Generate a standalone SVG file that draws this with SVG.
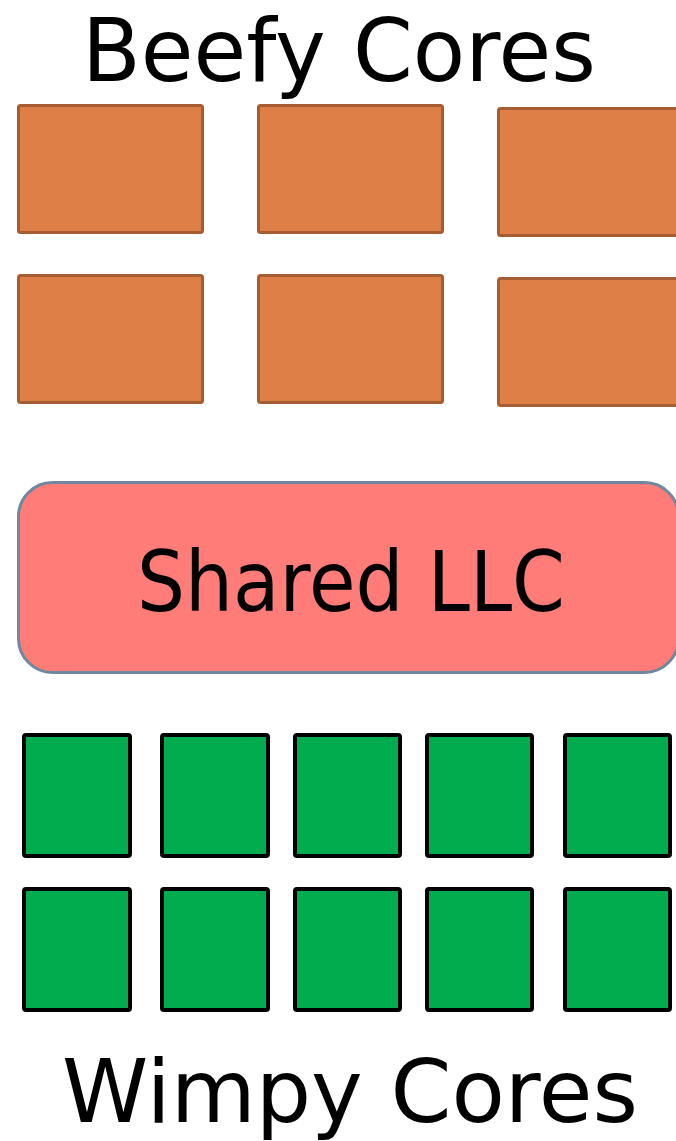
<svg xmlns="http://www.w3.org/2000/svg" width="676" height="1141" viewBox="0 0 676 1141">
<style>
.beefy{fill:#DD7F47;stroke:#A65D33;stroke-width:3}
.wimpy{fill:#00AC4E;stroke:#000;stroke-width:4}
.llc{fill:#FF7C78;stroke:#6F88A0;stroke-width:3}
.t{font-family:"DejaVu Sans","Liberation Sans",sans-serif;fill:#000}
</style>
<rect width="676" height="1141" fill="#fff"/>
<g id="title-beefy"><text class="t" x="82" y="81" font-size="88" textLength="514" lengthAdjust="spacingAndGlyphs">Beefy Cores</text></g>
<g id="beefy-cores">
<rect id="b1" class="beefy" x="18.5" y="105.5" width="184" height="127" rx="2"/>
<rect id="b2" class="beefy" x="258.5" y="105.5" width="184" height="127" rx="2"/>
<rect id="b3" class="beefy" x="498.5" y="108.5" width="184" height="127" rx="2"/>
<rect id="b4" class="beefy" x="18.5" y="275.5" width="184" height="127" rx="2"/>
<rect id="b5" class="beefy" x="258.5" y="275.5" width="184" height="127" rx="2"/>
<rect id="b6" class="beefy" x="498.5" y="278.5" width="184" height="127" rx="2"/>
</g>
<g id="llc">
<rect class="llc" x="18.5" y="482.5" width="660" height="190" rx="34"/>
<text class="t" x="137" y="611" font-size="83" textLength="428" lengthAdjust="spacingAndGlyphs">Shared LLC</text>
</g>
<g id="wimpy-cores">
<rect id="w1" class="wimpy" x="24" y="735" width="106" height="121" rx="2"/>
<rect id="w2" class="wimpy" x="162" y="735" width="106" height="121" rx="2"/>
<rect id="w3" class="wimpy" x="295" y="735" width="105" height="121" rx="2"/>
<rect id="w4" class="wimpy" x="427" y="735" width="105" height="121" rx="2"/>
<rect id="w5" class="wimpy" x="565" y="735" width="105" height="121" rx="2"/>
<rect id="w6" class="wimpy" x="24" y="889" width="106" height="121" rx="2"/>
<rect id="w7" class="wimpy" x="162" y="889" width="106" height="121" rx="2"/>
<rect id="w8" class="wimpy" x="295" y="889" width="105" height="121" rx="2"/>
<rect id="w9" class="wimpy" x="427" y="889" width="105" height="121" rx="2"/>
<rect id="w10" class="wimpy" x="565" y="889" width="105" height="121" rx="2"/>
</g>
<g id="title-wimpy"><text class="t" x="62" y="1122" font-size="88" textLength="576" lengthAdjust="spacingAndGlyphs">Wimpy Cores</text></g>
<g id="connectors"/>
</svg>
